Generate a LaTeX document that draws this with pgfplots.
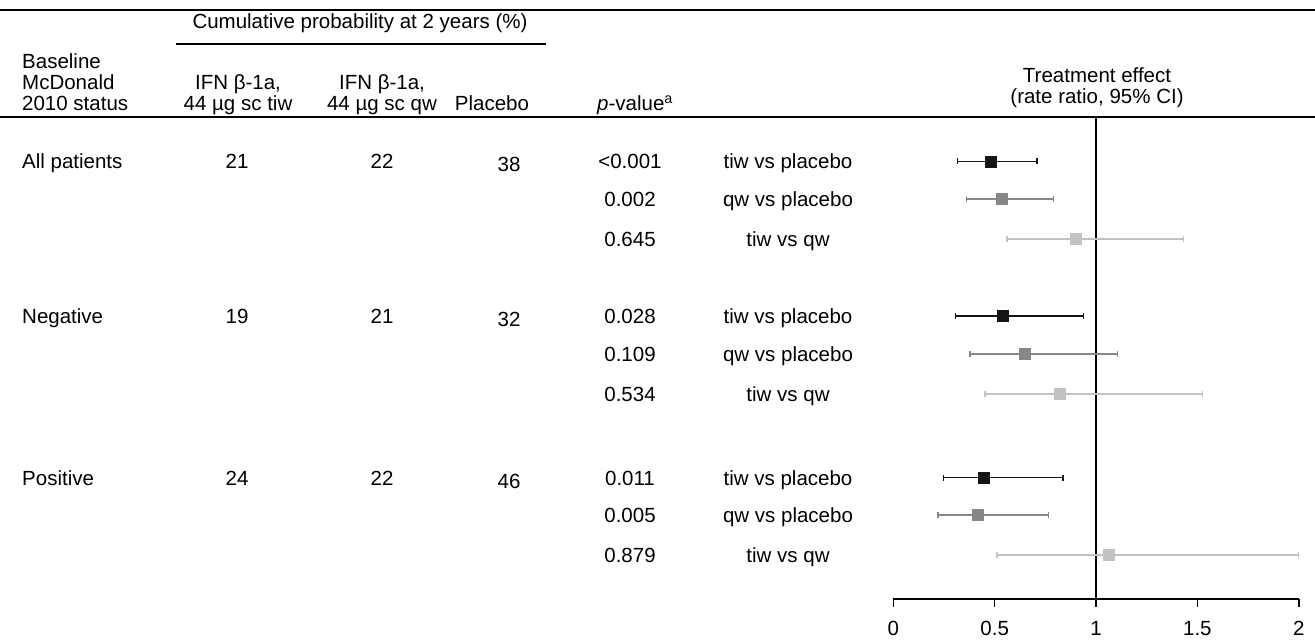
\documentclass[border=0pt]{standalone}
\usepackage{fontspec}
\setmainfont{Liberation Sans}
\usepackage{pgfplots}
\pgfplotsset{compat=1.18}
\definecolor{cA}{HTML}{151515}
\definecolor{cB}{HTML}{878787}
\definecolor{cC}{HTML}{C2C2C2}
\newcommand{\fs}{\fontsize{20.5bp}{24bp}\selectfont}
\begin{document}
\begin{tikzpicture}
\fs
\begin{scope}[x=1bp,y=-1bp]
\path[use as bounding box] (0,0) rectangle (1315,636);
\draw[line width=2.4bp] (0,10) -- (1315,10);
\draw[line width=1.5bp] (176,44) -- (546,44);
\draw[line width=2.8bp] (0,117) -- (1315,117);
\node[anchor=base] at (360,29) {Cumulative probability at 2 years (\%)};
\node[anchor=base west,inner sep=0] at (22,69) {Baseline};
\node[anchor=base west,inner sep=0] at (22,90) {McDonald};
\node[anchor=base west,inner sep=0] at (22,111) {2010 status};
\node[anchor=base] at (238,90) {IFN β-1a,};
\node[anchor=base] at (238,111) {44 µg sc tiw};
\node[anchor=base] at (382,90) {IFN β-1a,};
\node[anchor=base] at (382,111) {44 µg sc qw};
\node[anchor=base] at (492,111) {Placebo};
\node[anchor=base west,inner sep=0] at (597,111) {\textit{p}-value\textsuperscript{a}};
\node[anchor=base] at (1097,83) {Treatment effect};
\node[anchor=base] at (1097,104) {(rate ratio, 95\% CI)};
% rows
\node[anchor=base west,inner sep=0] at (22,169) {All patients};
\node[anchor=base] at (237,169) {21};
\node[anchor=base] at (382,169) {22};
\node[anchor=base] at (509,172) {38};
\node[anchor=base west,inner sep=0] at (22,323.5) {Negative};
\node[anchor=base] at (237,323.5) {19};
\node[anchor=base] at (382,323.5) {21};
\node[anchor=base] at (509,326.5) {32};
\node[anchor=base west,inner sep=0] at (22,485) {Positive};
\node[anchor=base] at (237,485) {24};
\node[anchor=base] at (382,485) {22};
\node[anchor=base] at (509,488) {46};
% p-values
\node[anchor=base] at (630,169) {<0.001};
\node[anchor=base] at (630,206.5) {0.002};
\node[anchor=base] at (630,246.5) {0.645};
\node[anchor=base] at (630,323.5) {0.028};
\node[anchor=base] at (630,361.5) {0.109};
\node[anchor=base] at (630,401.5) {0.534};
\node[anchor=base] at (630,485) {0.011};
\node[anchor=base] at (630,522.5) {0.005};
\node[anchor=base] at (630,562.5) {0.879};
% comparisons
\foreach \yy in {169,323.5,485} {\node[anchor=base] at (788,\yy) {tiw vs placebo};}
\foreach \yy in {206.5,361.5,522.5} {\node[anchor=base] at (788,\yy) {qw vs placebo};}
\foreach \yy in {246.5,401.5,562.5} {\node[anchor=base] at (788,\yy) {tiw vs qw};}
\end{scope}

\begin{axis}[
  at={(893.3bp,-599bp)}, anchor=south west,
  scale only axis, width=405.4bp, height=482bp,
  xmin=0, xmax=2, ymin=0, ymax=482,
  enlargelimits=false, clip=false,
  axis x line*=bottom, axis y line=none,
  x axis line style={-, line width=1.8bp},
  xtick={0,0.5,1,1.5,2},
  xticklabels={0,0.5,1,1.5,2},
  ytick=\empty,
  tick align=outside, major tick length=8bp,
  tick style={line width=1.6bp, black},
  xticklabel style={font=\fs, anchor=base, yshift=-28bp},
]
\draw[line width=2.4bp, black] (axis cs:1,0) -- (axis cs:1,482);
% tiw vs placebo
\addplot[only marks, mark=square*, mark size=5.5bp, mark options={fill=cA, draw=cA},
  error bars/.cd, x dir=both, x explicit, error mark=|,
  error bar style={line width=1.3bp, cA},
  error mark options={line width=1.3bp, mark size=3bp, cA}]
  coordinates {
  (0.479,437.5) -= (0.161,0) += (0.230,0)
  (0.538,283) -= (0.232,0) += (0.401,0)
  (0.444,121.3) -= (0.197,0) += (0.393,0)
  };
% qw vs placebo
\addplot[only marks, mark=square*, mark size=5.5bp, mark options={fill=cB, draw=cB},
  error bars/.cd, x dir=both, x explicit, error mark=|,
  error bar style={line width=1.3bp, cB},
  error mark options={line width=1.3bp, mark size=3bp, cB}]
  coordinates {
  (0.533,400) -= (0.171,0) += (0.258,0)
  (0.646,245) -= (0.268,0) += (0.459,0)
  (0.414,84) -= (0.193,0) += (0.351,0)
  };
% tiw vs qw
\addplot[only marks, mark=square*, mark size=5.5bp, mark options={fill=cC, draw=cC},
  error bars/.cd, x dir=both, x explicit, error mark=|,
  error bar style={line width=1.3bp, cC},
  error mark options={line width=1.3bp, mark size=3bp, cC}]
  coordinates {
  (0.898,360) -= (0.337,0) += (0.535,0)
  (0.819,205) -= (0.367,0) += (0.706,0)
  (1.061,44) -= (0.549,0) += (0.939,0)
  };
\end{axis}
\end{tikzpicture}
\end{document}
